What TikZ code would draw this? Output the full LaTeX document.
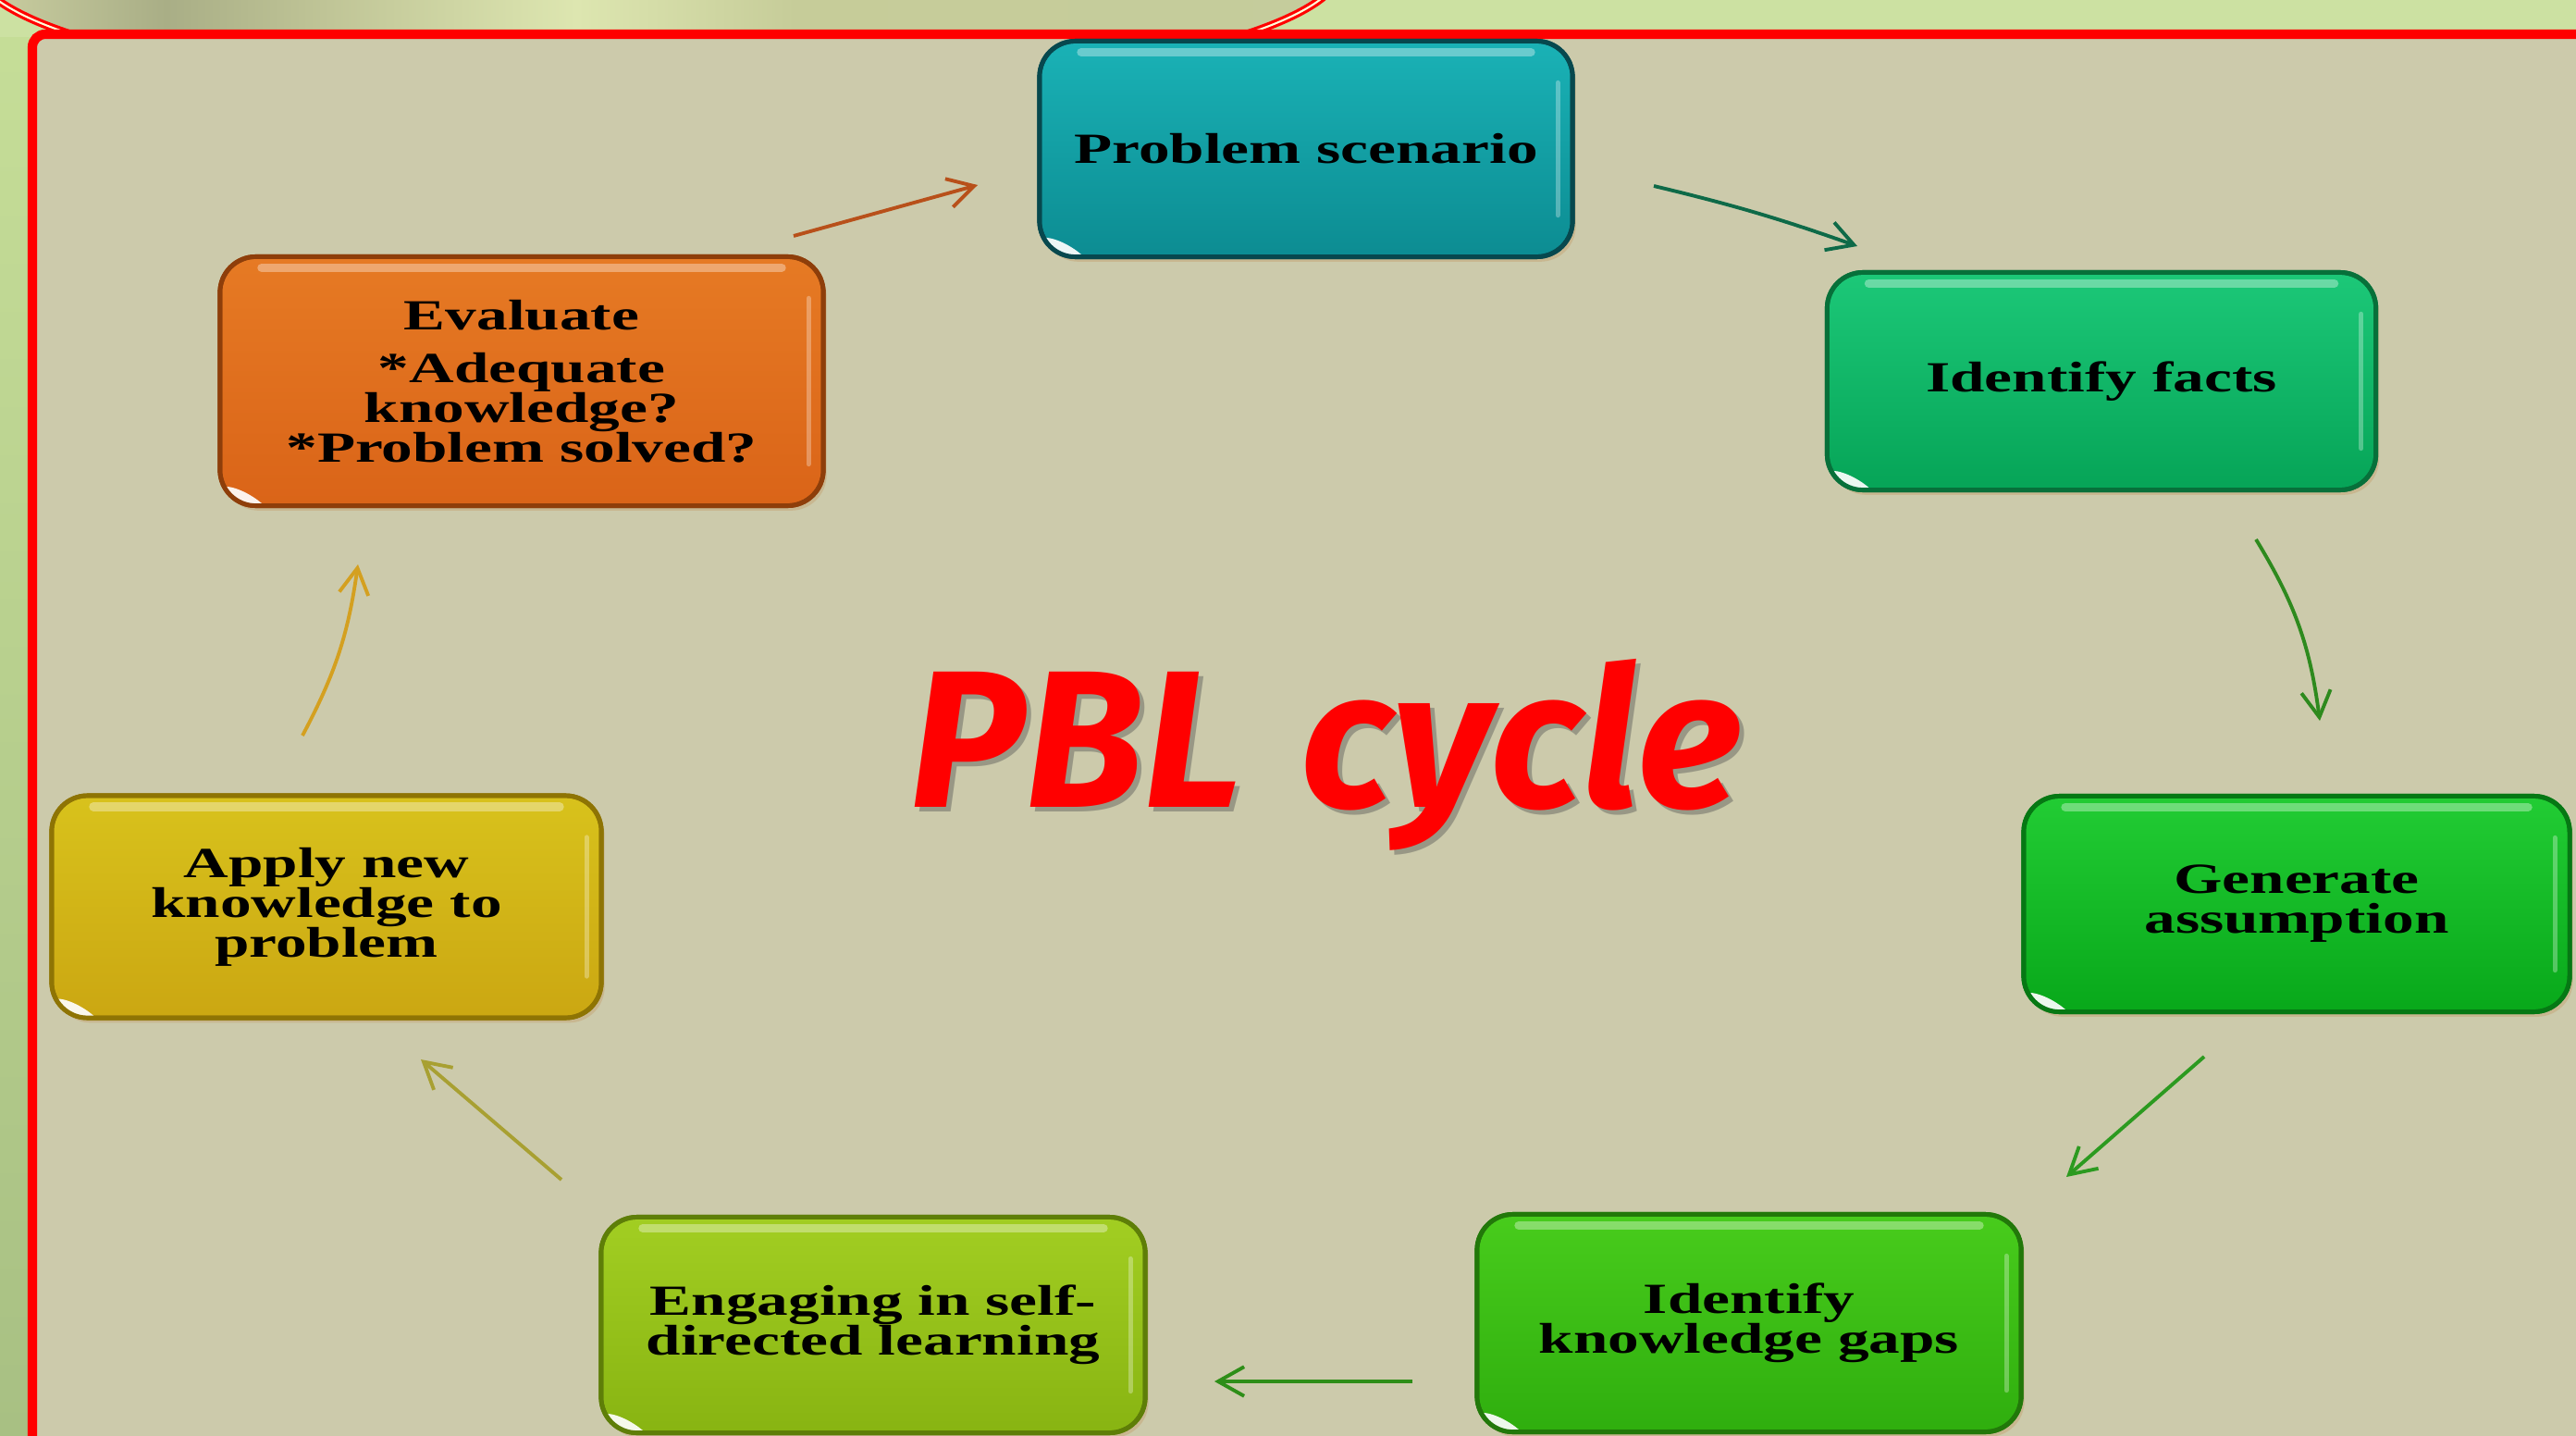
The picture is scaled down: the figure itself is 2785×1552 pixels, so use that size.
\documentclass[tikz,border=0pt]{standalone}
\usepackage{fontspec}
\setmainfont{Liberation Serif}
\newfontfamily\boxfont{Liberation Serif}[FakeStretch=1.45]
\newfontfamily\titlefont{Fira Sans}
\usetikzlibrary{arrows.meta,calc,shadows}

\definecolor{bgin}{HTML}{CCCAAB}
\definecolor{gtop}{HTML}{C6DE98}
\definecolor{gbot}{HTML}{A8C083}
\definecolor{sA}{HTML}{CCD0A2}
\definecolor{sB}{HTML}{A9AE86}
\definecolor{sC}{HTML}{C0C597}
\definecolor{sD}{HTML}{DDE6B0}
\definecolor{sE}{HTML}{C6CC99}
\definecolor{sF}{HTML}{C5CC9C}
\pgfdeclarehorizontalshading{streaks}{100bp}{color(0bp)=(sA); color(25bp)=(sA); color(32bp)=(sB); color(38bp)=(sC); color(47bp)=(sD); color(55bp)=(sE); color(75bp)=(sF); color(100bp)=(sF)}

\definecolor{probT}{HTML}{1AB2B6}\definecolor{probB}{HTML}{0C8C92}\definecolor{probD}{HTML}{07484E}
\definecolor{factT}{HTML}{1CC878}\definecolor{factB}{HTML}{06A457}\definecolor{factD}{HTML}{07703A}
\definecolor{assuT}{HTML}{22CC34}\definecolor{assuB}{HTML}{08A81A}\definecolor{assuD}{HTML}{067814}
\definecolor{gapsT}{HTML}{48CC1C}\definecolor{gapsB}{HTML}{2FAE0E}\definecolor{gapsD}{HTML}{22780A}
\definecolor{selfT}{HTML}{A2CE22}\definecolor{selfB}{HTML}{88B412}\definecolor{selfD}{HTML}{5E7E08}
\definecolor{applT}{HTML}{D8C21C}\definecolor{applB}{HTML}{CBA712}\definecolor{applD}{HTML}{8E7404}
\definecolor{evalT}{HTML}{E67A24}\definecolor{evalB}{HTML}{DA6418}\definecolor{evalD}{HTML}{8E3E0A}
\definecolor{arA}{HTML}{B8501A}
\definecolor{arB}{HTML}{0E6A48}
\definecolor{arC}{HTML}{2E8A1E}
\definecolor{arD}{HTML}{2C9A20}
\definecolor{arE}{HTML}{2E8E18}
\definecolor{arF}{HTML}{A8A032}
\definecolor{arG}{HTML}{D4A020}

\tikzset{
  pbl/.style={rectangle, rounded corners=11pt, line width=1.4pt, outer sep=0pt,
    inner sep=0pt, align=center, text=black,
    font=\boxfont\bfseries\fontsize{13.2}{12.2}\selectfont,
    drop shadow={shadow xshift=1pt, shadow yshift=-1.5pt, opacity=0.25, fill=brown}},
  cyc/.style={line width=1.1pt, -{Straight Barb[length=8pt,width=9pt]}}
}

\newcommand\pblbox[9]{%
  \node[pbl, minimum width=#4, minimum height=#5, top color=#6, bottom color=#7, draw=#8] (#1) at (#2,#3) {#9};
  \draw[white, opacity=0.35, line width=2.6pt, line cap=round]
    ([xshift=0.45cm,yshift=-0.12cm]#1.north west) -- ([xshift=-0.45cm,yshift=-0.12cm]#1.north east);
  \draw[white, opacity=0.3, line width=1.5pt, line cap=round]
    ([xshift=-0.16cm,yshift=-0.45cm]#1.north east) -- ([xshift=-0.16cm,yshift=0.45cm]#1.south east);
  \begin{scope}
    \clip[rounded corners=11pt] (#1.south west) rectangle (#1.north east);
    \fill[white, opacity=0.92, rotate around={-32:([xshift=0.24cm,yshift=0.13cm]#1.south west)}]
      ([xshift=0.24cm,yshift=0.13cm]#1.south west) ellipse [x radius=0.36cm, y radius=0.14cm];
  \end{scope}
  \draw[#8, line width=1.4pt, rounded corners=11pt] (#1.south west) rectangle (#1.north east);
}

\begin{document}
\begin{tikzpicture}[x=0.01cm, y=-0.01cm]
\useasboundingbox (0,0) rectangle (2785,1552);
% outer green background
\shade[top color=gtop, bottom color=gbot] (0,0) rectangle (2785,1552);
\fill[gtop!90!white] (0,0) rectangle (2785,40);
% tab arc at top
\shade[shading=streaks] (712,-38) ellipse [x radius=740, y radius=146];
\draw[red, line width=2.4pt] (712,-38) ellipse [x radius=740, y radius=146];
\draw[white!85!yellow, line width=0.6pt] (712,-38) ellipse [x radius=740, y radius=146];
% frame
\draw[red, line width=2.9pt, fill=bgin, rounded corners=4pt] (35,37) rectangle (2830,1620);

% title
\node[anchor=base, text=black!70, opacity=0.4, font=\titlefont\bfseries\itshape\fontsize{60}{60}\selectfont] (titlesh) at (1438,877) {PBL\hspace{0.3em}cycle};
\node[anchor=base, text=red, font=\titlefont\bfseries\itshape\fontsize{60}{60}\selectfont] (title) at (1433,872) {PBL\hspace{0.3em}cycle};

% boxes
\pblbox{prob}{1412}{161}{5.76cm}{2.33cm}{probT}{probB}{probD}{Problem scenario}
\pblbox{facts}{2272}{412}{5.93cm}{2.35cm}{factT}{factB}{factD}{Identify facts}
\pblbox{assum}{2483}{977}{5.90cm}{2.33cm}{assuT}{assuB}{assuD}{Generate\\assumption}
\pblbox{gaps}{1891}{1430}{5.88cm}{2.35cm}{gapsT}{gapsB}{gapsD}{Identify\\knowledge gaps}
\pblbox{self}{944}{1432}{5.88cm}{2.33cm}{selfT}{selfB}{selfD}{Engaging in self-\\directed learning}
\pblbox{apply}{353}{980}{5.94cm}{2.40cm}{applT}{applB}{applD}{Apply new\\knowledge to\\problem}
\pblbox{eval}{564}{412}{6.52cm}{2.69cm}{evalT}{evalB}{evalD}{Evaluate\\[4pt]*Adequate\\knowledge?\\*Problem solved?}

% connector ends
\coordinate (c1s) at (858,255);  \coordinate (c1e) at (1057,200);
\coordinate (c2s) at (1788,201); \coordinate (c2e) at (2008,266);
\coordinate (c3s) at (2439,583); \coordinate (c3e) at (2508,779);
\coordinate (c4s) at (2383,1142);\coordinate (c4e) at (2234,1272);
\coordinate (c5s) at (1527,1493);\coordinate (c5e) at (1313,1493);
\coordinate (c6s) at (607,1275); \coordinate (c6e) at (455,1145);
\coordinate (c7s) at (327,795);  \coordinate (c7e) at (387,610);

\draw[cyc, color=arA] (c1s) -- (c1e);
\draw[cyc, color=arB] (c2s) to[bend left=3] (c2e);
\draw[cyc, color=arC] (c3s) to[bend left=12] (c3e);
\draw[cyc, color=arD] (c4s) -- (c4e);
\draw[cyc, color=arE] (c5s) -- (c5e);
\draw[cyc, color=arF] (c6s) -- (c6e);
\draw[cyc, color=arG] (c7s) to[bend right=10] (c7e);
\end{tikzpicture}
\end{document}
